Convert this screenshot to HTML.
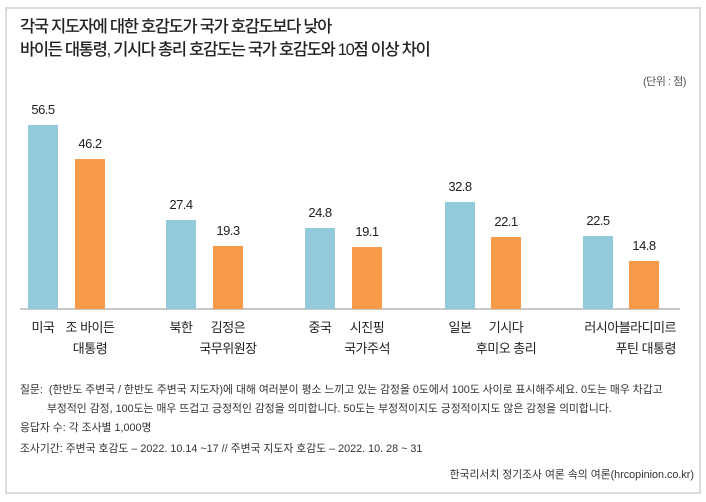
<!DOCTYPE html><html><head><meta charset="utf-8"><style>
body{margin:0;width:706px;height:502px;background:#fff;position:relative;font-family:"Liberation Sans","Noto Sans CJK KR",sans-serif;color:#222;overflow:hidden}
.f{position:absolute;left:5px;top:7px;width:692px;height:483px;border:2px solid #dcdcdc}
.a{position:absolute;white-space:nowrap}
.b{position:absolute;width:30px}
.v{position:absolute;width:50px;text-align:center;font-size:13px;letter-spacing:-0.5px}
.l{position:absolute;width:90px;text-align:center;font-size:13px;line-height:21px;letter-spacing:-0.5px}
.s{font-size:10.8px;color:#333;letter-spacing:0px}
</style></head><body><div class="f"></div>
<div class="a" style="left:20px;top:16px;font-size:16.5px;line-height:23px;letter-spacing:-1.3px;font-weight:500">각국 지도자에 대한 호감도가 국가 호감도보다 낮아<br>바이든 대통령, 기시다 총리 호감도는 국가 호감도와 10점 이상 차이</div>
<div class="a" style="left:643px;top:73px;font-size:11px;color:#555;letter-spacing:-0.5px">(단위 : 점)</div>
<div style="position:absolute;left:20px;top:308px;width:660px;height:2px;background:#c8c8c8"></div>
<div class="b" style="left:28px;top:125px;height:184px;background:#92cadb"></div><div class="v" style="left:18px;top:102px">56.5</div>
<div class="b" style="left:75px;top:159px;height:150px;background:#f79a4a"></div><div class="v" style="left:65px;top:136px">46.2</div>
<div class="b" style="left:166px;top:220px;height:89px;background:#92cadb"></div><div class="v" style="left:156px;top:197px">27.4</div>
<div class="b" style="left:213px;top:246px;height:63px;background:#f79a4a"></div><div class="v" style="left:203px;top:223px">19.3</div>
<div class="b" style="left:305px;top:228px;height:81px;background:#92cadb"></div><div class="v" style="left:295px;top:205px">24.8</div>
<div class="b" style="left:352px;top:247px;height:62px;background:#f79a4a"></div><div class="v" style="left:342px;top:224px">19.1</div>
<div class="b" style="left:445px;top:202px;height:107px;background:#92cadb"></div><div class="v" style="left:435px;top:179px">32.8</div>
<div class="b" style="left:491px;top:237px;height:72px;background:#f79a4a"></div><div class="v" style="left:481px;top:214px">22.1</div>
<div class="b" style="left:583px;top:236px;height:73px;background:#92cadb"></div><div class="v" style="left:573px;top:213px">22.5</div>
<div class="b" style="left:629px;top:261px;height:48px;background:#f79a4a"></div><div class="v" style="left:619px;top:238px">14.8</div>
<div class="l" style="left:-2px;top:317px">미국</div>
<div class="l" style="left:45px;top:317px">조 바이든<br>대통령</div>
<div class="l" style="left:136px;top:317px">북한</div>
<div class="l" style="left:183px;top:317px">김정은<br>국무위원장</div>
<div class="l" style="left:275px;top:317px">중국</div>
<div class="l" style="left:322px;top:317px">시진핑<br>국가주석</div>
<div class="l" style="left:415px;top:317px">일본</div>
<div class="l" style="left:461px;top:317px">기시다<br>후미오 총리</div>
<div class="l" style="left:566px;top:317px;width:110px;text-align:right">러시아블라디미르<br>푸틴 대통령</div>
<div class="a s" style="left:20px;top:381px;line-height:19px">질문:&nbsp; (한반도 주변국 / 한반도 주변국 지도자)에 대해 여러분이 평소 느끼고 있는 감정을 0도에서 100도 사이로 표시해주세요. 0도는 매우 차갑고<br>&nbsp;&nbsp;&nbsp;&nbsp;&nbsp;&nbsp;&nbsp;&nbsp;&nbsp;부정적인 감정, 100도는 매우 뜨겁고 긍정적인 감정을 의미합니다. 50도는 부정적이지도 긍정적이지도 않은 감정을 의미합니다.</div>
<div class="a s" style="left:20px;top:419px">응답자 수: 각 조사별 1,000명</div>
<div class="a s" style="left:20px;top:440px">조사기간: 주변국 호감도 ‒ 2022. 10.14 ~17 // 주변국 지도자 호감도 ‒ 2022. 10. 28 ~ 31</div>
<div class="a s" style="right:12px;top:466px">한국리서치 정기조사 여론 속의 여론(hrcopinion.co.kr)</div>
</body></html>
